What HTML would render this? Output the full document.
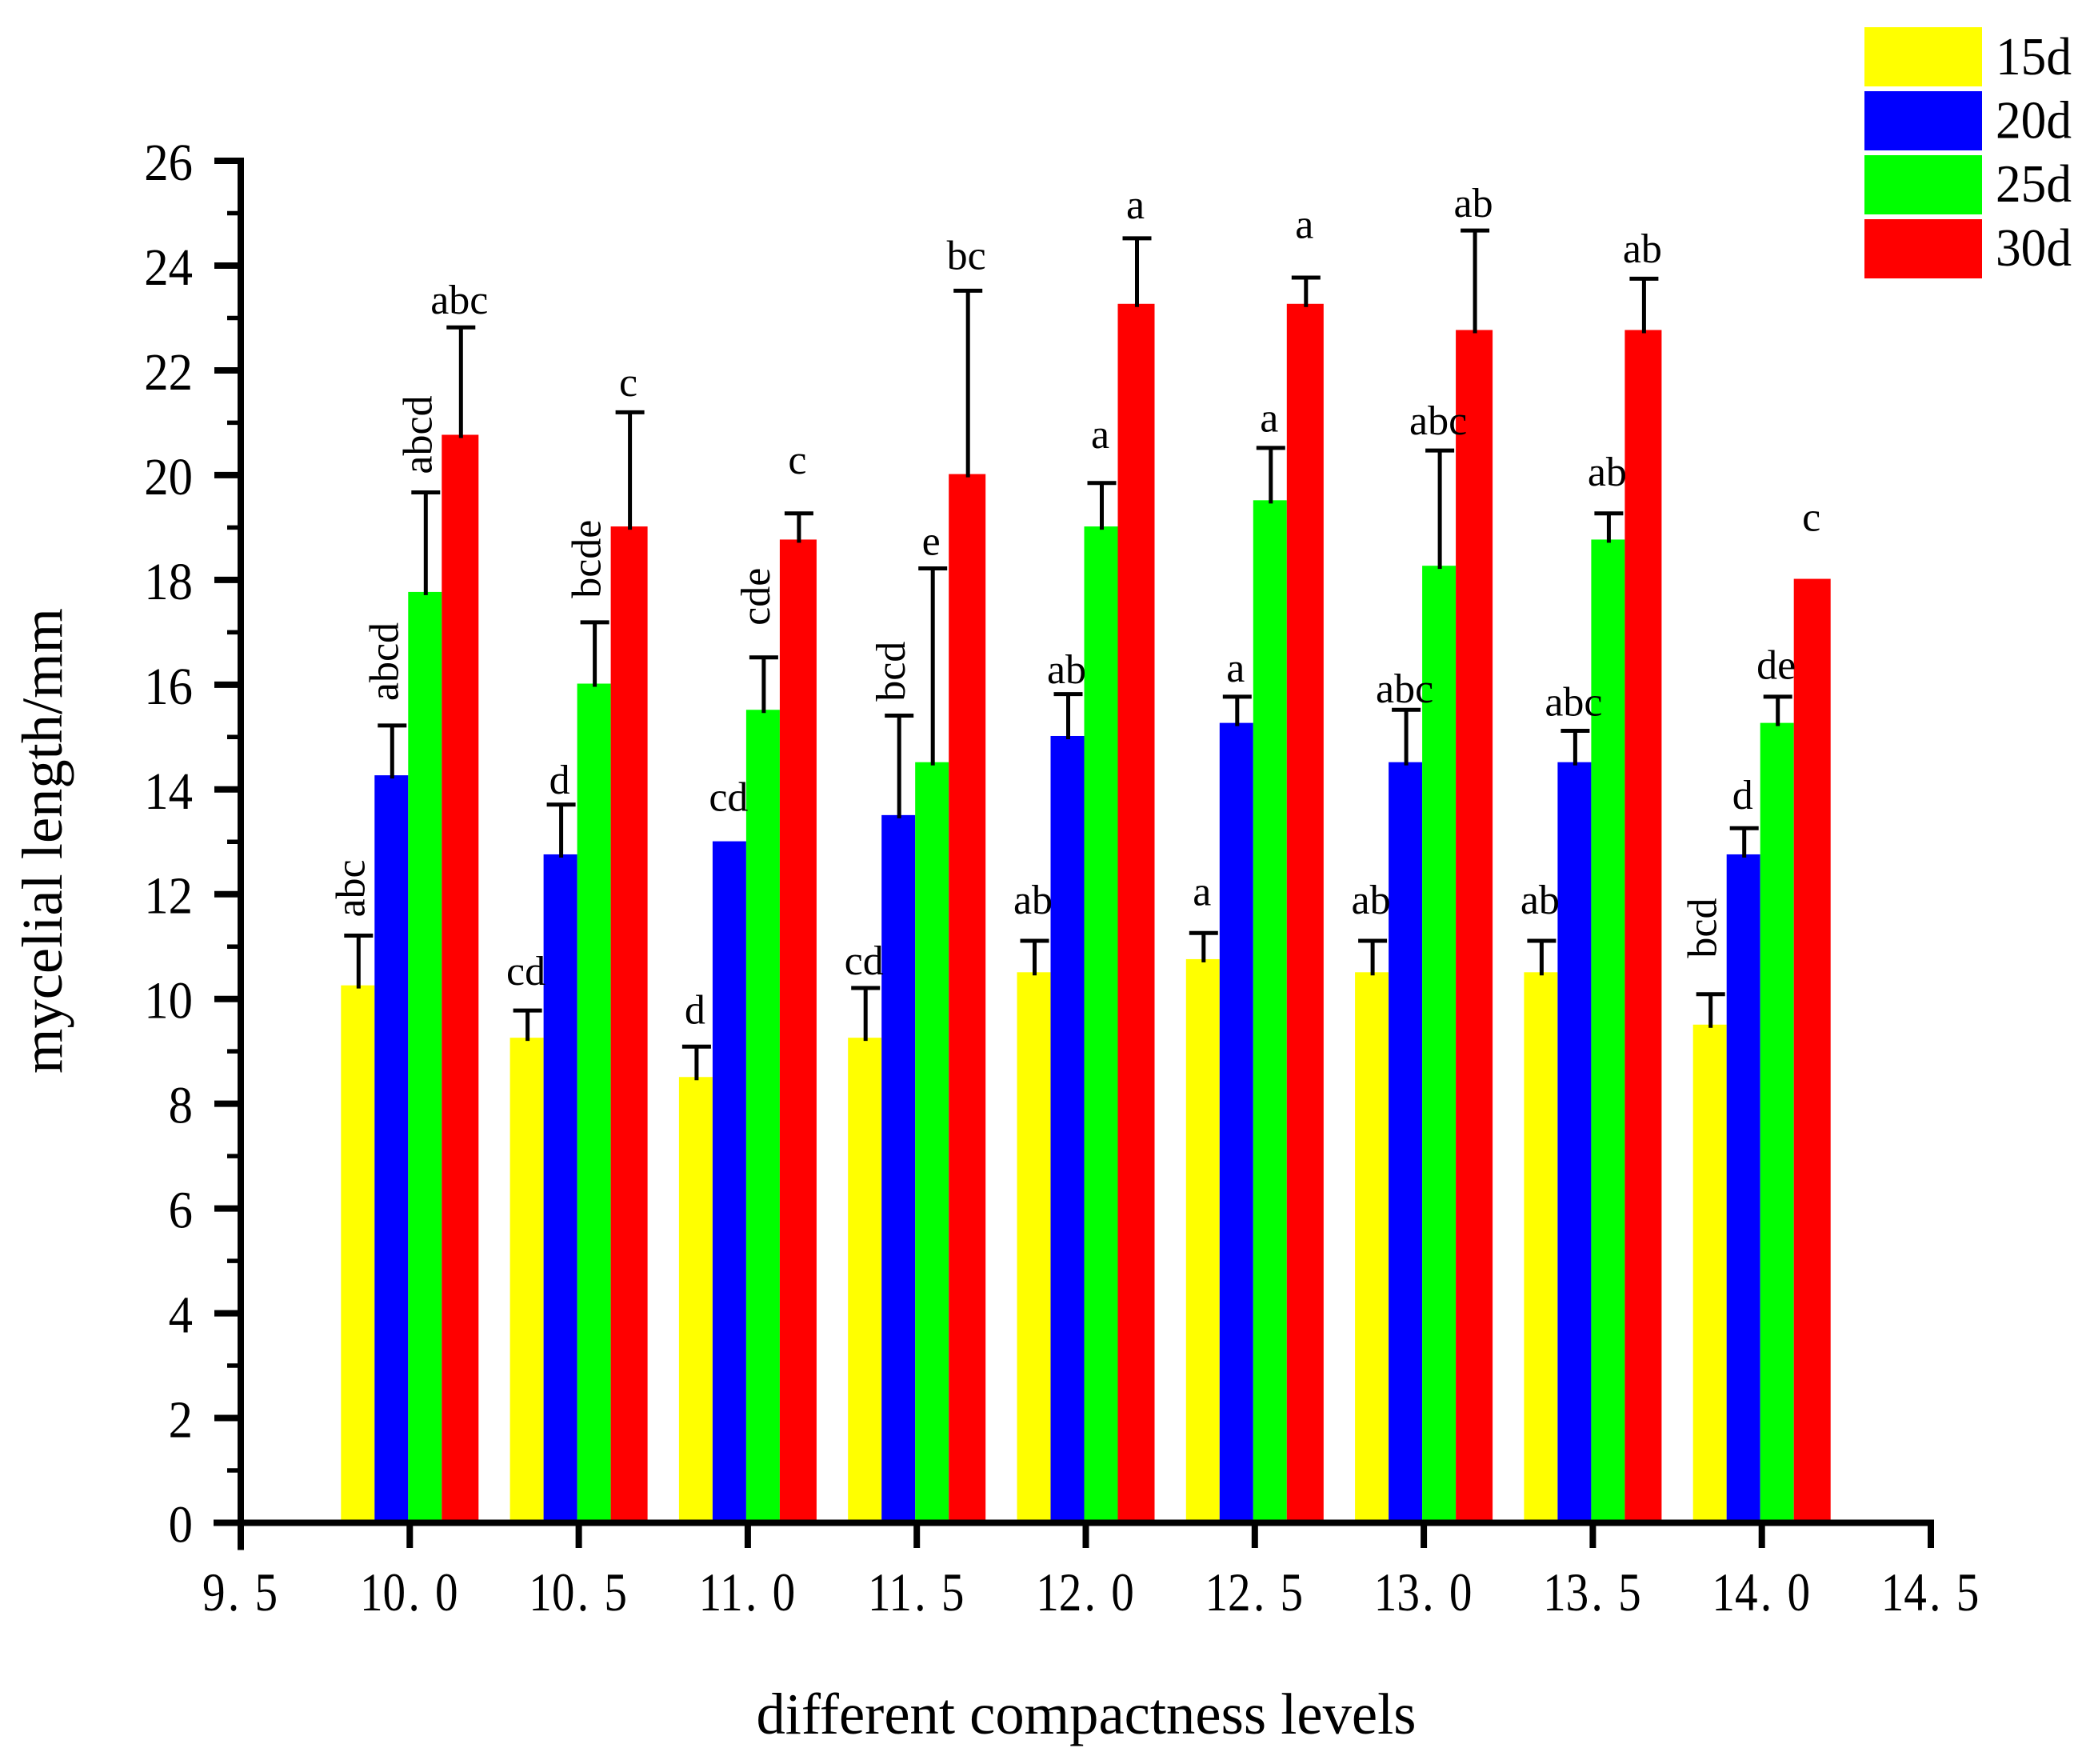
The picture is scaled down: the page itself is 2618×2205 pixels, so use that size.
<!DOCTYPE html>
<html lang="en">
<head>
<meta charset="utf-8">
<title>Mycelial length by compactness level</title>
<style>
html,body{margin:0;padding:0;background:#fff;}
svg{display:block;}
text{font-family:"Liberation Serif","Noto Serif CJK SC",serif;fill:#000;}
</style>
</head>
<body>
<svg id="chart" xmlns="http://www.w3.org/2000/svg" width="2618" height="2205" viewBox="0 0 2618 2205"></svg>
<script>
// ---- chart data ----
const categories = ["10.0","10.5","11.0","11.5","12.0","12.5","13.0","13.5","14.0"];
const seriesNames = ["15d","20d","25d","30d"];
const values15d = [10.26,9.26,8.51,9.26,10.51,10.76,10.51,10.51,9.51];
const values20d = [14.27,12.76,13.01,13.51,15.02,15.27,14.52,14.52,12.76];
const values25d = [17.77,16.02,15.52,14.52,19.02,19.52,18.27,18.77,15.27];
const values30d = [20.77,19.02,18.77,20.02,23.27,23.27,22.77,22.77,18.02];
const errors15d = [0.95,0.52,0.58,0.95,0.6,0.5,0.6,0.6,0.58];
const errors20d = [0.95,0.95,0,1.9,0.8,0.5,1,0.6,0.5];
const errors25d = [1.9,1.17,1,3.7,0.83,1,2.2,0.5,0.5];
const errors30d = [2.05,2.18,0.5,3.5,1.25,0.5,1.9,0.98,0];
const labels15d = ["abc","cd","d","cd","ab","a","ab","ab","bcd"];
const labels20d = ["abcd","d","cd","bcd","ab","a","abc","abc","d"];
const labels25d = ["abcd","bcde","cde","e","a","a","abc","ab","de"];
const labels30d = ["abc","c","c","bc","a","a","ab","ab","c"];
const rotated15d = [1,0,0,0,0,0,0,0,1];
const rotated20d = [1,0,0,1,0,0,0,0,0];
const rotated25d = [1,1,1,0,0,0,0,0,0];
const rotated30d = [0,0,0,0,0,0,0,0,0];
// clearance between the top of each error bar and its letter, in y-axis units
const labelLift15d = [0.35,0.49,0.44,0.26,0.52,0.53,0.52,0.52,0.69];
const labelLift20d = [0.47,0.21,0.58,0.27,0.21,0.29,0.14,0.29,0.37];
const labelLift25d = [0.35,0.46,0.61,0.26,0.67,0.31,0.31,0.53,0.34];
const labelLift30d = [0.26,0.31,0.76,0.41,0.38,0.76,0.26,0.31,0.92];
const yTickLabels = [0,2,4,6,8,10,12,14,16,18,20,22,24,26];
const yMinorTicks = [1,3,5,7,9,11,13,15,17,19,21,23,25];
const xTickLabels = ["9.5","10.0","10.5","11.0","11.5","12.0","12.5","13.0","13.5","14.0","14.5"];

// ---- layout ----
const svg = document.getElementById('chart');
const NS = 'http://www.w3.org/2000/svg';
const Y0 = 1903.5, PX_PER_UNIT = 65.48;
const X0 = 301, PX_PER_X = 422.6;
const BAR_EDGES = [-86,-44,-2,40,86];
const COLORS = ['#ffff00','#0000ff','#00ff00','#ff0000'];
const seriesValues = [values15d,values20d,values25d,values30d];
const seriesErrors = [errors15d,errors20d,errors25d,errors30d];
const seriesLabels = [labels15d,labels20d,labels25d,labels30d];
const seriesRotated = [rotated15d,rotated20d,rotated25d,rotated30d];
const seriesLift = [labelLift15d,labelLift20d,labelLift25d,labelLift30d];

function yScale(v){ return Y0 - v*PX_PER_UNIT; }
function xScale(v){ return X0 + (v-9.5)*PX_PER_X; }
function make(tag, attrs, parent){
  const el = document.createElementNS(NS, tag);
  for (const k in attrs) el.setAttribute(k, attrs[k]);
  (parent||svg).appendChild(el);
  return el;
}
function line(x1,y1,x2,y2,w,parent){
  return make('line',{x1:x1,y1:y1,x2:x2,y2:y2,stroke:'#000','stroke-width':w},parent);
}

// ---- bars and error bars (later series paint over earlier caps) ----
seriesNames.forEach(function(name,s){
  const group = make('g',{});
  
  
  categories.forEach(function(cat,i){
    const cx = xScale(parseFloat(cat));
    const left = cx + BAR_EDGES[s], right = cx + BAR_EDGES[s+1];
    const val = seriesValues[s][i], err = seriesErrors[s][i];
    const top = yScale(val);
    const bar = make('rect',{x:left,y:top,width:right-left,height:Y0-top,fill:COLORS[s]},group);
    
    
    if (err > 0) {
      const mid = (left+right)/2 + 1;
      const capY = yScale(val+err);
      const stem = line(mid,top+4,mid,capY,5,group);
      
      
      const cap = line(mid-18,capY,mid+18,capY,5,group);
      
      
    }
  });
});

// ---- significance letters ----
seriesNames.forEach(function(name,s){
  categories.forEach(function(cat,i){
    const cx = xScale(parseFloat(cat));
    const mid = cx + (BAR_EDGES[s]+BAR_EDGES[s+1])/2;
    const capY = yScale(seriesValues[s][i]+seriesErrors[s][i]);
    const rot = seriesRotated[s][i];
    const gap = seriesLift[s][i]*PX_PER_UNIT;
    const t = make('text',{'font-size':52});
    t.textContent = seriesLabels[s][i];
    if (rot) {
      t.setAttribute('text-anchor','start');
      t.setAttribute('transform','translate(' + (mid+8) + ',' + (capY-gap) + ') rotate(-90)');
    } else {
      t.setAttribute('text-anchor','middle');
      t.setAttribute('x', mid-1);
      t.setAttribute('y', capY-gap);
    }
    
    
  });
});

// ---- y axis ----
const yAxis = make('g',{});


const yLine = line(X0,yScale(26)-4,X0,Y0+34,8,yAxis);


yMinorTicks.forEach(function(v){
  const tk = line(284,yScale(v),X0,yScale(v),5.5,yAxis);
  
  
});
yTickLabels.forEach(function(v){
  const tk = line(268,yScale(v),X0,yScale(v),8,yAxis);
  
  
  const t = make('text',{'font-size':66,'text-anchor':'end',transform:'translate(241,' + (yScale(v)+24) + ') scale(0.92,1)'},yAxis);
  t.textContent = v;
  
  
});

// ---- x axis ----
const xAxis = make('g',{});


const xLine = line(267,Y0,xScale(14.5)+4,Y0,8,xAxis);


xTickLabels.forEach(function(lbl){
  const px = xScale(parseFloat(lbl));
  const tk = line(px,Y0,px,1935,8,xAxis);
  
  
  const t = make('text',{'font-size':68,'text-anchor':'middle',transform:'translate(' + (px-1) + ',2013) scale(0.84,1)'},xAxis);
  const parts = lbl.split('.');
  const a = make('tspan',{},t);
  a.textContent = parts[0];
  const b = make('tspan',{dx:4},t);
  b.textContent = '.';
  const c = make('tspan',{dx:23},t);
  c.textContent = parts[1];
  
  
});

// ---- axis titles ----
const yTitle = make('text',{'font-size':72.5,'text-anchor':'middle',transform:'translate(77,1051) rotate(-90)'});
yTitle.textContent = 'mycelial length/mm';


const xTitle = make('text',{'font-size':72.6,'text-anchor':'middle',x:1358,y:2167});
xTitle.textContent = 'different compactness levels';



// ---- legend ----
const legend = make('g',{});


seriesNames.forEach(function(name,s){
  const sw = make('rect',{x:2331,y:34+s*80,width:147,height:74,fill:COLORS[s]},legend);
  
  
  const t = make('text',{'font-size':67,x:2495,y:93+s*79.6,textLength:95,lengthAdjust:'spacingAndGlyphs'},legend);
  t.textContent = name;
  
  
});
</script>
</body>
</html>
